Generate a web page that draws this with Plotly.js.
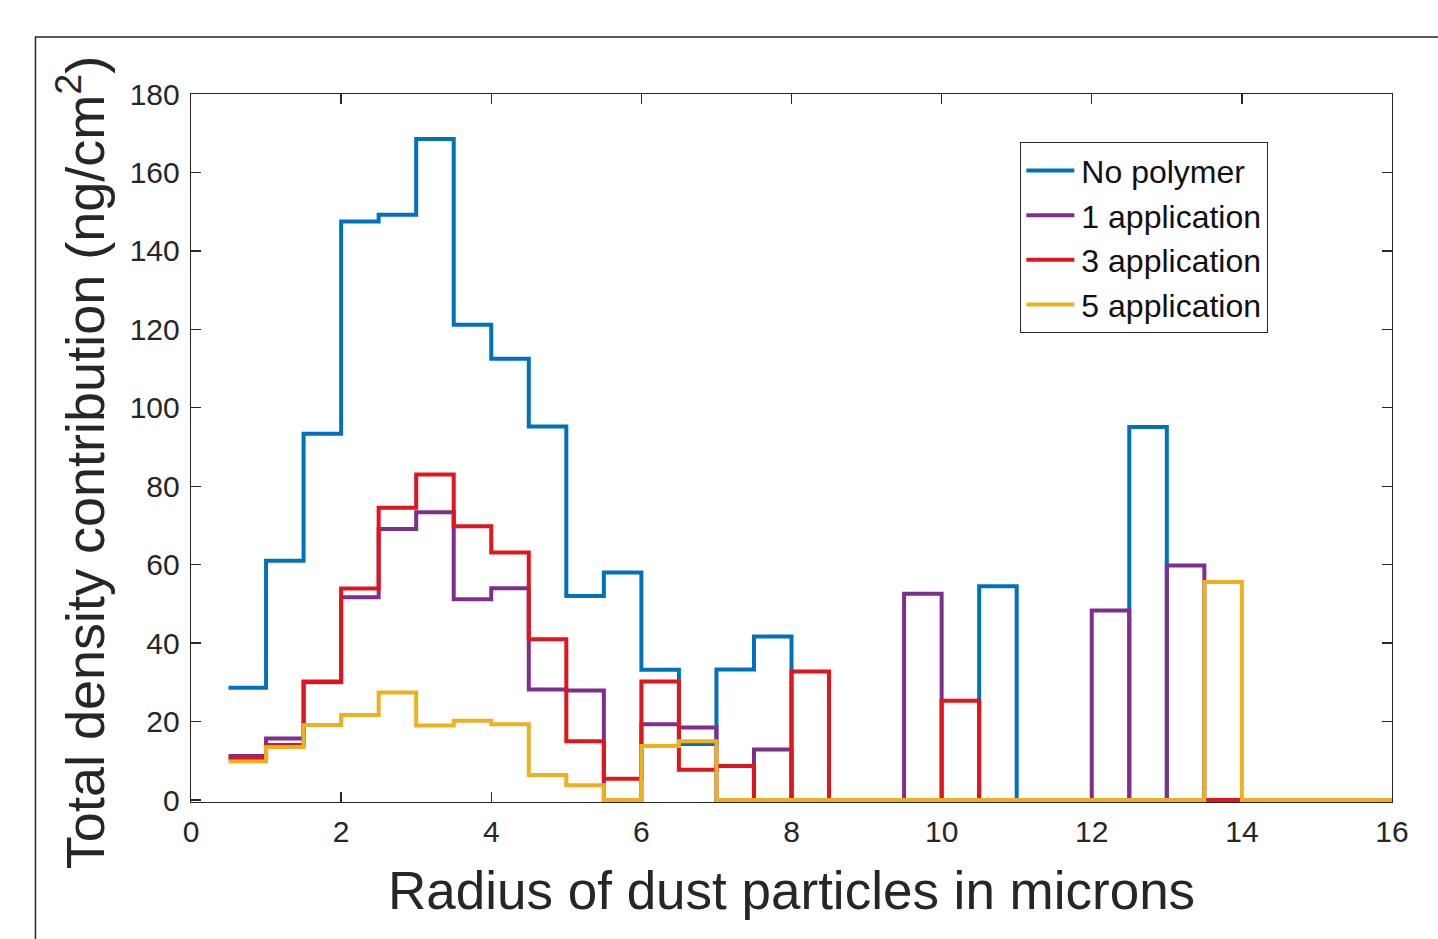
<!DOCTYPE html>
<html>
<head>
<meta charset="utf-8">
<script src="https://cdn.plot.ly/plotly-3.0.1.min.js"></script>
<style>
  html, body { margin: 0; padding: 0; background: #ffffff; }
  #chart { width: 1438px; height: 939px; }
</style>
</head>
<body>
<div id="chart"></div>
<script>
// Bin left edges (microns) and final right edge
const binStart = [0.5, 1.0, 1.5, 2.0, 2.5, 3.0, 3.5, 4.0, 4.5, 5.0, 5.5, 6.0, 6.5, 7.0, 7.5, 8.0,
                  8.5, 9.0, 9.5, 10.0, 10.5, 11.0, 11.5, 12.0, 12.5, 13.0, 13.5, 14.0, 14.5, 15.0, 15.5];
const binEnd = 16;

const seriesNames = ["No polymer", "1 application", "3 application", "5 application"];

const noPolymer = [28.6, 61, 93.4, 147.5, 149.2, 168.5, 121.2, 112.5, 95.2, 52, 58, 33.2, 14.3, 33.3, 41.7, 0,
                   0, 0, 0, 0, 54.5, 0, 0, 0, 95.1, 0, 0, 0, 0, 0, 0];
const app1 = [11.2, 15.7, 30, 51.7, 69.1, 73.4, 51.2, 54, 28.2, 27.9, 0, 19.3, 18.5, 0, 12.9, 0,
              0, 0, 52.6, 0, 0, 0, 0, 48.3, 0, 59.8, 0, 0, 0, 0, 0];
const app3 = [10.6, 14, 30.2, 53.9, 74.5, 83, 69.8, 63.1, 41, 15, 5.4, 30.2, 7.7, 8.7, 0, 32.8,
              0, 0, 0, 25.3, 0, 0, 0, 0, 0, 0, 0, 0, 0, 0, 0];
const app5 = [9.8, 13.5, 19.1, 21.7, 27.4, 19, 20.2, 19.3, 6.4, 3.8, 0, 13.8, 15, 0, 0, 0,
              0, 0, 0, 0, 0, 0, 0, 0, 0, 0, 55.6, 0, 0, 0, 0];

const xTicks = [0, 2, 4, 6, 8, 10, 12, 14, 16];
const yTicks = [0, 20, 40, 60, 80, 100, 120, 140, 160, 180];

const colors = ["#0072BD", "#7E2F8E", "#E0161C", "#EDB120"];
const allSeries = [noPolymer, app1, app3, app5];

const traces = allSeries.map((vals, i) => ({
  type: "scatter",
  mode: "lines",
  name: seriesNames[i],
  x: binStart.concat([binEnd]),
  y: vals.concat([vals[vals.length - 1]]),
  line: { shape: "hv", color: colors[i], width: 4 },
  hoverinfo: "x+y+name"
}));

const axisColor = "#262626";
const fontFam = "Liberation Sans, Arial, Helvetica, sans-serif";

const layout = {
  width: 1438,
  height: 939,
  paper_bgcolor: "#ffffff",
  plot_bgcolor: "#ffffff",
  margin: { l: 191, r: 46, t: 94, b: 137, pad: 0 },
  font: { family: fontFam, color: axisColor },
  showlegend: true,
  xaxis: {
    range: [0, 16],
    tickvals: xTicks,
    ticktext: xTicks.map(String),
    ticks: "inside",
    ticklen: 10,
    tickwidth: 1.3,
    tickcolor: axisColor,
    showline: true,
    linecolor: axisColor,
    linewidth: 1.3,
    mirror: "ticks",
    showgrid: false,
    zeroline: false,
    layer: "below traces",
    ticklabelstandoff: 3,
    tickfont: { size: 30, color: axisColor, family: fontFam },
    automargin: false
  },
  yaxis: {
    range: [-0.5, 180],
    tickvals: yTicks,
    ticktext: yTicks.map(String),
    ticks: "inside",
    ticklen: 10,
    tickwidth: 1.3,
    tickcolor: axisColor,
    showline: true,
    linecolor: axisColor,
    linewidth: 1.3,
    mirror: "ticks",
    showgrid: false,
    zeroline: false,
    layer: "below traces",
    ticklabelstandoff: 4,
    tickfont: { size: 30, color: axisColor, family: fontFam },
    automargin: false
  },
  legend: {
    x: 0.6903,
    y: 0.9322,
    xanchor: "left",
    yanchor: "top",
    bgcolor: "#ffffff",
    bordercolor: axisColor,
    borderwidth: 1.3,
    font: { size: 32, color: "#111111", family: fontFam },
    itemwidth: 50,
    tracegroupgap: 0
  },
  annotations: [
    {
      text: "Radius of dust particles in microns",
      xref: "paper", yref: "paper",
      x: 0.4996, y: -0.1243,
      xanchor: "center", yanchor: "middle",
      showarrow: false,
      font: { size: 53, color: axisColor, family: fontFam }
    },
    {
      text: "Total density contribution (ng/cm<sup>2</sup>)",
      xref: "paper", yref: "paper",
      x: -0.0916, y: 0.48,
      xanchor: "center", yanchor: "middle",
      textangle: -90,
      showarrow: false,
      font: { size: 54, color: axisColor, family: fontFam }
    }
  ],
  shapes: [
    {
      type: "rect",
      xref: "paper", yref: "paper",
      x0: -0.1295, x1: 1.2, y0: -0.3, y1: 1.0805,
      line: { color: axisColor, width: 1.5 },
      fillcolor: "rgba(0,0,0,0)",
      layer: "below"
    }
  ]
};

Plotly.newPlot("chart", traces, layout, { displayModeBar: false, staticPlot: true }).then(function (gd) {
  // lengthen legend line samples to match the MATLAB-style legend
  var paths = gd.querySelectorAll(".legend .legendlines path");
  paths.forEach(function (p) { p.setAttribute("d", "M5,0h48"); p.removeAttribute("transform"); });
  var groups = gd.querySelectorAll(".legend .legendlines");
  groups.forEach(function (g) { g.removeAttribute("transform"); });
});
</script>
</body>
</html>
